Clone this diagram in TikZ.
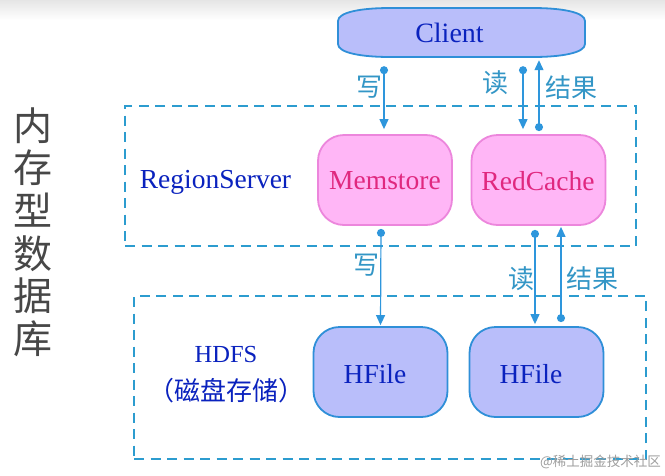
\documentclass[tikz,border=0pt]{standalone}
\usepackage{fontspec}
\setmainfont{Liberation Serif}
\newfontfamily\cjk{Noto Sans CJK SC}
\usetikzlibrary{arrows.meta}
\definecolor{bluefill}{HTML}{B9BEFA}
\definecolor{blueline}{HTML}{2F8FD8}
\definecolor{pinkfill}{HTML}{FFB6F6}
\definecolor{pinkline}{HTML}{EC86DC}
\definecolor{pinktext}{HTML}{E0287F}
\definecolor{bluetext}{HTML}{0A22BE}
\definecolor{dash}{HTML}{2C9CCF}
\definecolor{arrowc}{HTML}{2E96DC}
\definecolor{labelc}{HTML}{3396C6}
\tikzset{
  x=1pt,y=-1pt,
  box/.style={draw,line width=1.8pt,rounded corners=26pt,minimum width=134pt,minimum height=90pt,inner sep=0pt},
  bluebox/.style={box,fill=bluefill,draw=blueline},
  pinkbox/.style={box,fill=pinkfill,draw=pinkline},
  region/.style={draw=dash,line width=1.8pt,dash pattern=on 10pt off 6.5pt,fill=none,inner sep=0pt},
  flow/.style={draw=arrowc,line width=1.2pt,{Circle[length=8pt,width=8pt]}-{Triangle[length=10pt,width=9pt]}},
  lab/.style={text=labelc,font=\cjk\fontsize{26}{26}\selectfont,inner sep=0pt},
  captxt/.style={text=bluetext,font=\fontsize{27.5}{27.5}\selectfont,inner sep=0pt},
  pinktxt/.style={captxt,text=pinktext},
  cjkcap/.style={text=bluetext,font=\cjk\fontsize{26}{26}\selectfont,inner sep=0pt}
}
\begin{document}
\begin{tikzpicture}
\useasboundingbox (0,0) rectangle (665,475);
\fill[white] (0,0) rectangle (665,475);
\shade[top color=black!10,bottom color=white] (0,0) rectangle (665,20);
\node[region,minimum width=511pt,minimum height=140pt] (rs) at (380.5,176) {};
\node[region,minimum width=512pt,minimum height=163pt] (hd) at (390,377.5) {};
\draw[fill=bluefill,draw=blueline,line width=1.8pt]
  (338,21) .. controls (338,12) and (362,8) .. (390,8) -- (533,8)
  .. controls (561,8) and (585,12) .. (585,21) -- (585,44)
  .. controls (585,53) and (561,57) .. (533,57) -- (390,57)
  .. controls (362,57) and (338,53) .. (338,44) -- cycle;
\node[minimum width=247pt,minimum height=49pt,inner sep=0pt] (client) at (461.5,32.5) {};
\node[captxt,font=\fontsize{28}{28}\selectfont] (clientt) at (449.5,33) {Client};
\node[pinkbox] (mem) at (385,180) {};
\node[pinkbox] (red) at (538.5,180) {};
\node[pinktxt] (memt) at (385,181) {Memstore};
\node[pinktxt] (redt) at (538,181) {RedCache};
\node[bluebox] (hf1) at (380.5,372) {};
\node[bluebox] (hf2) at (536.5,372) {};
\node[captxt] (hf1t) at (375,374) {HFile};
\node[captxt] (hf2t) at (531,374) {HFile};
\node[captxt] (rst) at (215.5,182) {RegionServer};
\node[captxt,font=\fontsize{24.5}{24.5}\selectfont] (hdt) at (226,355) {HDFS};
\node[cjkcap] (hdc) at (226,391) {（磁盘存储）};
\path[flow] ([xshift=-77.5pt,yshift=-9pt]client.south) -- ([xshift=-1pt,yshift=5pt]mem.north);
\path[flow] ([xshift=61.5pt,yshift=-9pt]client.south) -- ([xshift=-15.5pt,yshift=5pt]red.north);
\path[flow] ([xshift=.5pt,yshift=3pt]red.north) -- ([xshift=77.5pt,yshift=-3pt]client.south);
\path[flow] ([xshift=-4pt,yshift=-3pt]mem.south) -- ([yshift=1pt]hf1.north);
\path[flow] ([xshift=-3.5pt,yshift=-4pt]red.south) -- ([xshift=-1.5pt,yshift=2pt]hf2.north);
\path[flow] ([xshift=24.5pt,yshift=4pt]hf2.north) -- ([xshift=22.5pt,yshift=-1pt]red.south);
\node[lab] (w1) at (369,87) {写};
\node[lab] (r1) at (495,83) {读};
\node[lab] (g1) at (571,88) {结果};
\node[lab] (w2) at (366,265) {写};
\node[lab] (r2) at (521,279) {读};
\node[lab] (g2) at (592,279) {结果};
\node[text=black!72,font=\cjk\fontsize{39}{42.6}\selectfont,align=center,inner sep=0pt] (side) at (33,232) {内\\存\\型\\数\\据\\库};
\node[text=black!38,font=\cjk\fontsize{13.5}{14}\selectfont,inner sep=0pt,anchor=east] (wm) at (661,462) {@稀土掘金技术社区};
\end{tikzpicture}
\end{document}
